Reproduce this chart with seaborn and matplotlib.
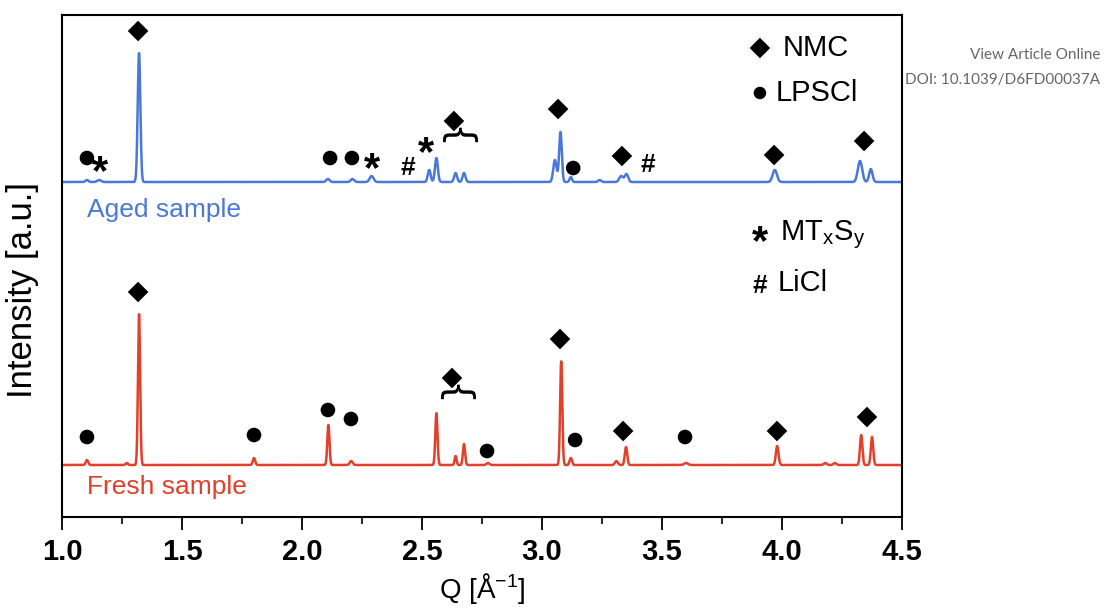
import numpy as np
import pandas as pd
import seaborn as sns
import matplotlib.pyplot as plt
from matplotlib.ticker import MultipleLocator

# ---------------- data ----------------
q_min, q_max = 1.0, 4.5
y_max = 502
aged_baseline = 335
fresh_baseline = 52

# aged sample peaks: position (1/Å), height, width (sigma)
aged_pos = [1.104, 1.155, 1.321, 2.108, 2.21, 2.29, 2.53, 2.56, 2.64, 2.675,
            3.054, 3.077, 3.12, 3.24, 3.33, 3.352, 3.97, 4.325, 4.37]
aged_height = [2, 2, 129, 3, 3, 6, 12, 24, 9, 9,
               22, 50, 5, 2, 6, 8, 12, 21, 13]
aged_width = [0.006, 0.008, 0.0055, 0.007, 0.007, 0.008, 0.006, 0.006, 0.006, 0.006,
              0.007, 0.0055, 0.005, 0.006, 0.008, 0.007, 0.009, 0.009, 0.007]

# fresh sample peaks
fresh_pos = [1.104, 1.27, 1.321, 1.80, 2.11, 2.205, 2.56, 2.64, 2.675, 2.775,
             3.08, 3.12, 3.31, 3.35, 3.60, 3.98, 4.18, 4.22, 4.33, 4.375]
fresh_height = [5, 2, 151, 7, 40, 4, 52, 9, 21, 2,
                104, 7, 4, 18, 2, 19, 2, 2, 30, 28]
fresh_width = [0.005, 0.005, 0.0045, 0.005, 0.0045, 0.006, 0.0045, 0.004, 0.0045, 0.006,
               0.0045, 0.005, 0.006, 0.005, 0.008, 0.0055, 0.006, 0.006, 0.005, 0.005]

# phase markers (position, height on the plot)
aged_nmc_q = [1.317, 3.067, 3.333, 3.967, 4.342]
aged_nmc_y = [486, 408, 361, 362, 376]
aged_lpscl_q = [1.104, 2.117, 2.208, 3.13]
aged_lpscl_y = [359, 359, 359, 349]
aged_mtxsy_q = [1.158, 2.29, 2.517]
aged_mtxsy_y = [352, 355, 371]
aged_licl_q = [2.44, 3.442]
aged_licl_y = [349, 352]
aged_brace_q, aged_brace_y = 2.633, 379
aged_brace_nmc_y = 396

fresh_nmc_q = [1.317, 3.075, 3.338, 3.979, 4.354]
fresh_nmc_y = [225, 178, 86, 86, 100]
fresh_lpscl_q = [1.104, 1.80, 2.108, 2.204, 2.771, 3.138, 3.596]
fresh_lpscl_y = [80, 82, 107, 98, 66, 77, 80]
fresh_brace_q, fresh_brace_y = 2.625, 122
fresh_brace_nmc_y = 139

legend_labels = ["NMC", "LPSCl", "MT$_\\mathregular{x}$S$_\\mathregular{y}$", "LiCl"]
legend_symbol_q = 3.908
legend_text_q = [4.004, 3.975, 3.99, 3.983]
legend_y = [469, 424, 282, 234]

x_ticks = [1.0, 1.5, 2.0, 2.5, 3.0, 3.5, 4.0, 4.5]

blue = "#4a78d8"
red = "#e2402b"

# ---------------- build curves ----------------
q = np.linspace(q_min, q_max, 4000)


def pattern(base, pos, hgt, wid):
    y = np.full_like(q, float(base))
    for c, h, s in zip(pos, hgt, wid):
        y += h * np.exp(-0.5 * ((q - c) / s) ** 2)
    return y


df = pd.concat([
    pd.DataFrame({"Q": q, "I": pattern(aged_baseline, aged_pos, aged_height, aged_width), "sample": "Aged"}),
    pd.DataFrame({"Q": q, "I": pattern(fresh_baseline, fresh_pos, fresh_height, fresh_width), "sample": "Fresh"}),
])

# ---------------- plot ----------------
sns.set_theme(style="white")
plt.rcParams["font.family"] = ["Liberation Sans", "DejaVu Sans"]
plt.rcParams["text.color"] = "black"
plt.rcParams["axes.labelcolor"] = "black"
plt.rcParams["xtick.color"] = "black"
plt.rcParams["mathtext.fontset"] = "custom"
plt.rcParams["mathtext.rm"] = "Liberation Sans"
plt.rcParams["mathtext.it"] = "Liberation Sans"

fig = plt.figure(figsize=(11.04, 6.12), dpi=100)
ax = fig.add_axes([62 / 1104, 1 - 517 / 612, 840 / 1104, 502 / 612])

sns.lineplot(data=df, x="Q", y="I", hue="sample", palette={"Aged": blue, "Fresh": red},
             linewidth=1.8, legend=False, ax=ax, estimator=None, sort=False)

d_ms = 10.5
o_ms = 10.5
all_nmc_q = aged_nmc_q + fresh_nmc_q + [aged_brace_q, fresh_brace_q]
all_nmc_y = aged_nmc_y + fresh_nmc_y + [aged_brace_nmc_y, fresh_brace_nmc_y]
sns.scatterplot(x=all_nmc_q, y=all_nmc_y, marker="D", s=d_ms ** 2, color="black",
                edgecolor="none", ax=ax, legend=False)
sns.scatterplot(x=aged_lpscl_q + fresh_lpscl_q, y=aged_lpscl_y + fresh_lpscl_y, marker="o",
                s=o_ms ** 2, color="black", edgecolor="none", ax=ax, legend=False)

for qq, yy in zip(aged_mtxsy_q, aged_mtxsy_y):
    ax.text(qq, yy - 8, "*", fontsize=30, fontweight="bold", ha="center", va="center")
for qq, yy in zip(aged_licl_q, aged_licl_y):
    ax.text(qq, yy, "#", fontsize=19, fontweight="bold", ha="center", va="center")

for qq, yy in [(aged_brace_q, aged_brace_y), (fresh_brace_q, fresh_brace_y)]:
    ax.text(qq, yy, "{", fontsize=27, rotation=-90, ha="center", va="center",
            family="DejaVu Sans", fontweight="normal")

# legend-like key
ax.scatter([legend_symbol_q], [legend_y[0]], marker="D", s=d_ms ** 2, color="black", edgecolor="none")
ax.scatter([legend_symbol_q], [legend_y[1]], marker="o", s=9 ** 2, color="black", edgecolor="none")
ax.text(legend_symbol_q, legend_y[2] - 8, "*", fontsize=30, fontweight="bold", ha="center", va="center")
ax.text(legend_symbol_q, legend_y[3] - 3, "#", fontsize=19, fontweight="bold", ha="center", va="center")
for lab, tq, ty in zip(legend_labels, legend_text_q, legend_y):
    ax.text(tq, ty, lab, fontsize=21, ha="left", va="center", color="black")

ax.text(1.104, 307, "Aged sample", color=blue, fontsize=19, ha="left", va="center")
ax.text(1.104, 30, "Fresh sample", color=red, fontsize=19, ha="left", va="center")

ax.set_xlim(q_min, q_max)
ax.set_ylim(0, y_max)
ax.set_xticks(x_ticks)
ax.set_xticklabels([f"{t:.1f}" for t in x_ticks], fontsize=21, fontweight="bold")
ax.xaxis.set_minor_locator(MultipleLocator(0.25))
ax.set_yticks([])
ax.tick_params(axis="x", which="major", direction="out", length=9, width=1.3, bottom=True, pad=6)
ax.tick_params(axis="x", which="minor", direction="out", length=5, width=1.2, bottom=True)
for sp in ax.spines.values():
    sp.set_color("black")
    sp.set_linewidth(1.5)

ax.set_xlabel("Q [Å$^\\mathregular{-1}$]", fontsize=20, labelpad=4)
ax.set_ylabel("Intensity [a.u.]", fontsize=25)
ax.yaxis.set_label_coords(-0.027, 0.452)

fig.text(1100 / 1104, 1 - 55 / 612, "View Article Online", fontsize=11, color="#666666",
         ha="right", va="center", family=["Lato", "DejaVu Sans"])
fig.text(1100 / 1104, 1 - 80 / 612, "DOI: 10.1039/D6FD00037A", fontsize=11, color="#666666",
         ha="right", va="center", family=["Lato", "DejaVu Sans"])

fig.savefig("out.png", dpi=100)
